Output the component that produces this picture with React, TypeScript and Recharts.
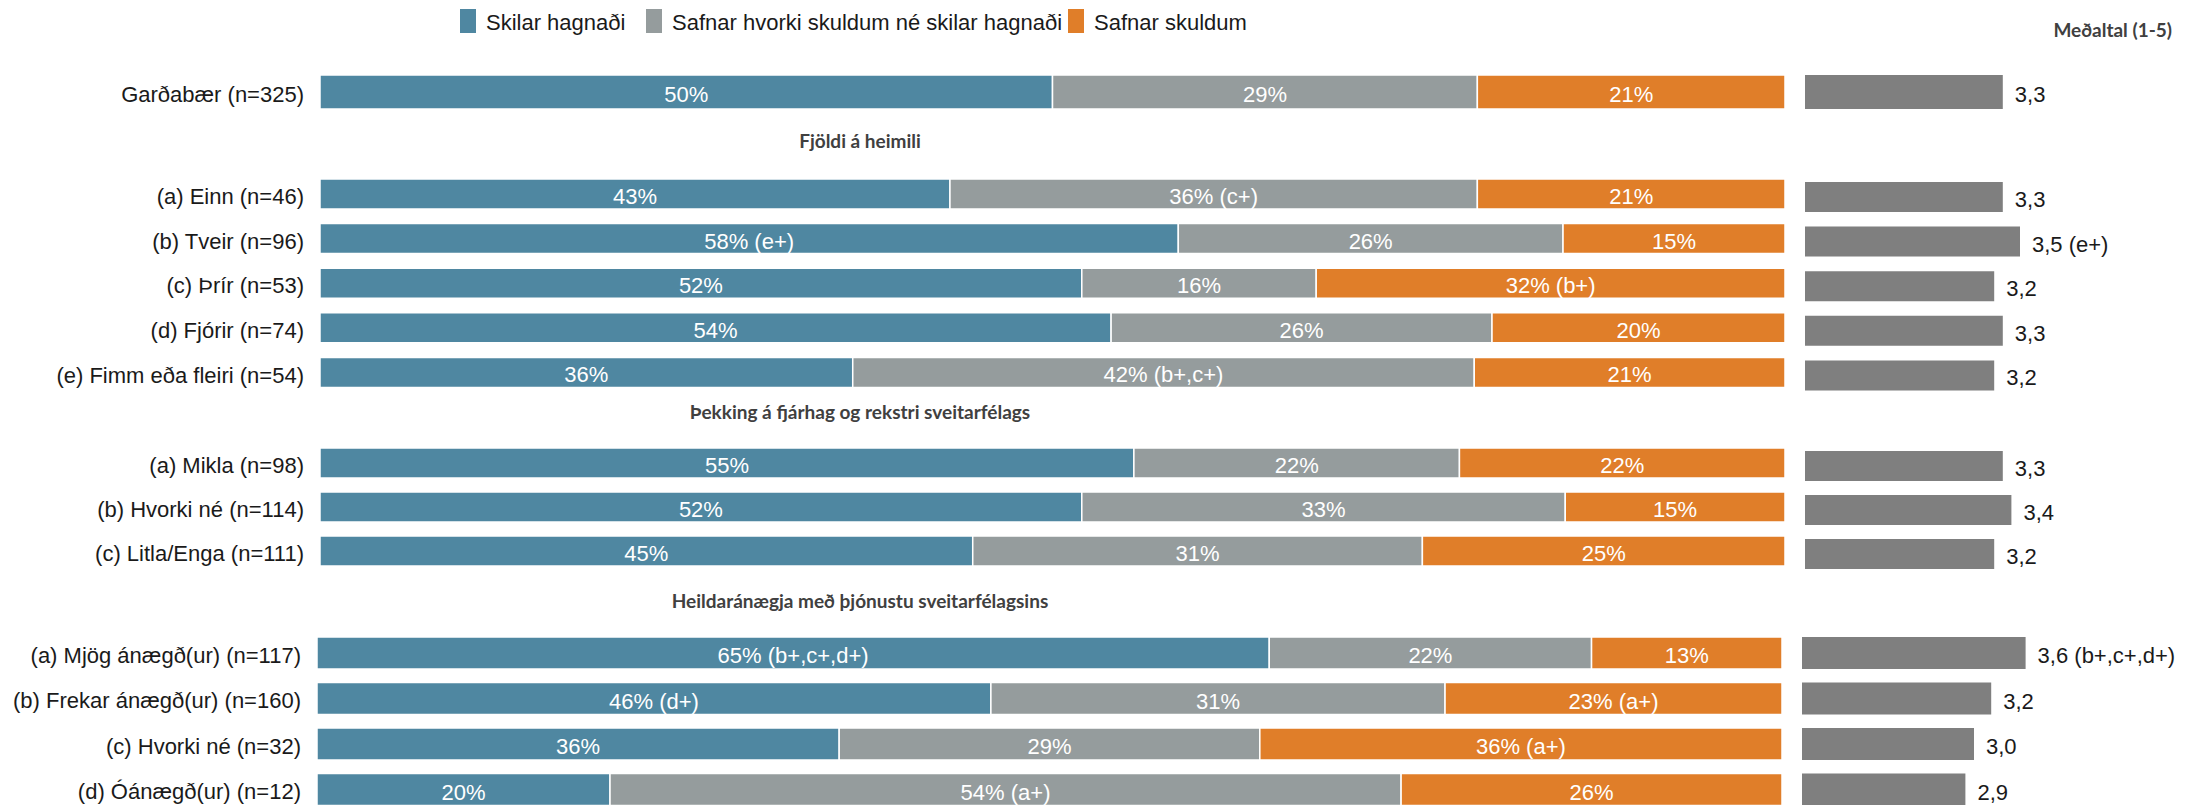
import { Bar, BarChart, LabelList, XAxis, YAxis } from "recharts";

// rows, top to bottom
const rowLabels = [
  "Garðabær (n=325)",
  "(a) Einn (n=46)",
  "(b) Tveir (n=96)",
  "(c) Þrír (n=53)",
  "(d) Fjórir (n=74)",
  "(e) Fimm eða fleiri (n=54)",
  "(a) Mikla (n=98)",
  "(b) Hvorki né (n=114)",
  "(c) Litla/Enga (n=111)",
  "(a) Mjög ánægð(ur) (n=117)",
  "(b) Frekar ánægð(ur) (n=160)",
  "(c) Hvorki né (n=32)",
  "(d) Óánægð(ur) (n=12)",
];
const profit = [50, 43, 58, 52, 54, 36, 55, 52, 45, 65, 46, 36, 20];
const neither = [29, 36, 26, 16, 26, 42, 22, 33, 31, 22, 31, 29, 54];
const debt = [21, 21, 15, 32, 20, 21, 22, 15, 25, 13, 23, 36, 26];
const profitNote = ["", "", " (e+)", "", "", "", "", "", "", " (b+,c+,d+)", " (d+)", "", ""];
const neitherNote = ["", " (c+)", "", "", "", " (b+,c+)", "", "", "", "", "", "", " (a+)"];
const debtNote = ["", "", "", " (b+)", "", "", "", "", "", "", " (a+)", " (a+)", ""];
const means = [3.3, 3.3, 3.5, 3.2, 3.3, 3.2, 3.3, 3.4, 3.2, 3.6, 3.2, 3.0, 2.9];
const meanNote = ["", "", " (e+)", "", "", "", "", "", "", " (b+,c+,d+)", "", "", ""];

const groupSizes = [1, 5, 3, 4];
const groupTitles = [
  "",
  "Fjöldi á heimili",
  "Þekking á fjárhag og rekstri sveitarfélags",
  "Heildaránægja með þjónustu sveitarfélagsins",
];
const seriesNames = ["Skilar hagnaði", "Safnar hvorki skuldum né skilar hagnaði", "Safnar skuldum"];
const meanTitle = "Meðaltal (1-5)";

const colors = ["#4f87a1", "#959c9d", "#e07e29"];
const MEAN_COLOR = "#7f7f7f";
const FONT = '"Liberation Sans", Arial, sans-serif';
const HEAD_FONT = 'Lato, "Open Sans", sans-serif';

// pixel layout of each block
const layout = [
  { top: 69.5, step: 44, bar: 34, dx: 0, meanDy: 0, titleY: 0 },
  { top: 171.7, step: 44.6, bar: 30, dx: 0, meanDy: 3, titleY: 148 },
  { top: 441, step: 44, bar: 30, dx: 0, meanDy: 2.5, titleY: 419 },
  { top: 630.25, step: 45.5, bar: 32, dx: -3, meanDy: 0, titleY: 608 },
];
const LABEL_W = 320;
const MAIN_RIGHT = 1785;
const MEAN_LEFT = 1805;
const MEAN_W = 344;

type Row = { idx: number; label: string; profit: number; neither: number; debt: number; mean: number };

let cursor = 0;
const groups: Row[][] = groupSizes.map((n) => {
  const rows: Row[] = [];
  for (let i = cursor; i < cursor + n; i++) {
    rows.push({ idx: i, label: rowLabels[i], profit: profit[i], neither: neither[i], debt: debt[i], mean: means[i] });
  }
  cursor += n;
  return rows;
});

const segLabel = (rows: Row[], values: number[], notes: string[]) => (props: any) => {
  const { x, y, width, height, index } = props;
  const r = rows[index];
  return (
    <text
      x={Number(x) + Number(width) / 2}
      y={Number(y) + Number(height) / 2 + 10}
      textAnchor="middle"
      fill="#ffffff"
      fontSize={22}
      fontFamily={FONT}
    >
      {values[r.idx]}%{notes[r.idx]}
    </text>
  );
};

const meanLabel = (rows: Row[]) => (props: any) => {
  const { x, y, width, height, index } = props;
  const r = rows[index];
  return (
    <text
      x={Number(x) + Number(width) + 12}
      y={Number(y) + Number(height) / 2 + 10}
      fill="#1a1a1a"
      fontSize={22}
      fontFamily={FONT}
    >
      {means[r.idx].toFixed(1).replace(".", ",")}
      {meanNote[r.idx]}
    </text>
  );
};

function Block({ rows, g }: { rows: Row[]; g: number }) {
  const l = layout[g];
  const h = rows.length * l.step;
  const meanLeft = MEAN_LEFT + l.dx;
  const meanWidth = 2192 - meanLeft;
  return (
    <>
      <div style={{ position: "absolute", left: l.dx, top: l.top }}>
        <BarChart
          width={MAIN_RIGHT}
          height={h}
          data={rows}
          layout="vertical"
          stackOffset="expand"
          margin={{ top: 0, right: 0, bottom: 0, left: 0 }}
        >
          <XAxis type="number" hide domain={[0, 1]} />
          <YAxis
            type="category"
            dataKey="label"
            width={LABEL_W}
            interval={0}
            tickLine={false}
            axisLine={false}
            tickSize={0}
            tickMargin={16}
            tick={{ fill: "#1a1a1a", fontSize: 22, fontFamily: FONT, dy: 2 }}
          />
          <Bar dataKey="profit" stackId="s" fill={colors[0]} stroke="#ffffff" strokeWidth={1.5} barSize={l.bar} isAnimationActive={false}>
            <LabelList content={segLabel(rows, profit, profitNote)} />
          </Bar>
          <Bar dataKey="neither" stackId="s" fill={colors[1]} stroke="#ffffff" strokeWidth={1.5} barSize={l.bar} isAnimationActive={false}>
            <LabelList content={segLabel(rows, neither, neitherNote)} />
          </Bar>
          <Bar dataKey="debt" stackId="s" fill={colors[2]} stroke="#ffffff" strokeWidth={1.5} barSize={l.bar} isAnimationActive={false}>
            <LabelList content={segLabel(rows, debt, debtNote)} />
          </Bar>
        </BarChart>
      </div>
      <div style={{ position: "absolute", left: meanLeft, top: l.top + l.meanDy }}>
        <BarChart
          width={meanWidth}
          height={h}
          data={rows}
          layout="vertical"
          margin={{ top: 0, right: meanWidth - MEAN_W, bottom: 0, left: 0 }}
        >
          <XAxis type="number" hide domain={[1, 5]} allowDataOverflow />
          <YAxis type="category" dataKey="label" hide />
          <Bar dataKey="mean" fill={MEAN_COLOR} barSize={l.bar} isAnimationActive={false}>
            <LabelList content={meanLabel(rows)} />
          </Bar>
        </BarChart>
      </div>
    </>
  );
}

export default function App() {
  const legendX = [460, 646, 1068];
  return (
    <div style={{ position: "relative", width: 2192, height: 805, overflow: "hidden", background: "#ffffff" }}>
      <style>{"body{margin:0}"}</style>
      <svg width={2192} height={805} style={{ position: "absolute", left: 0, top: 0 }}>
        {seriesNames.map((name, i) => (
          <g key={name}>
            <rect x={legendX[i]} y={9} width={16} height={24} fill={colors[i]} />
            <text x={legendX[i] + 26} y={30} fontSize={22} fontFamily={FONT} fill="#1a1a1a">
              {name}
            </text>
          </g>
        ))}
        <text x={2172} y={37} textAnchor="end" fontSize={19} fontWeight={700} fontFamily={HEAD_FONT} fill="#404040">
          {meanTitle}
        </text>
        {groupTitles.map((t, g) =>
          t ? (
            <text key={t} x={860} y={layout[g].titleY} textAnchor="middle" fontSize={19} fontWeight={700} fontFamily={HEAD_FONT} fill="#404040">
              {t}
            </text>
          ) : null
        )}
      </svg>
      {groups.map((rows, g) => (
        <Block key={g} rows={rows} g={g} />
      ))}
    </div>
  );
}
